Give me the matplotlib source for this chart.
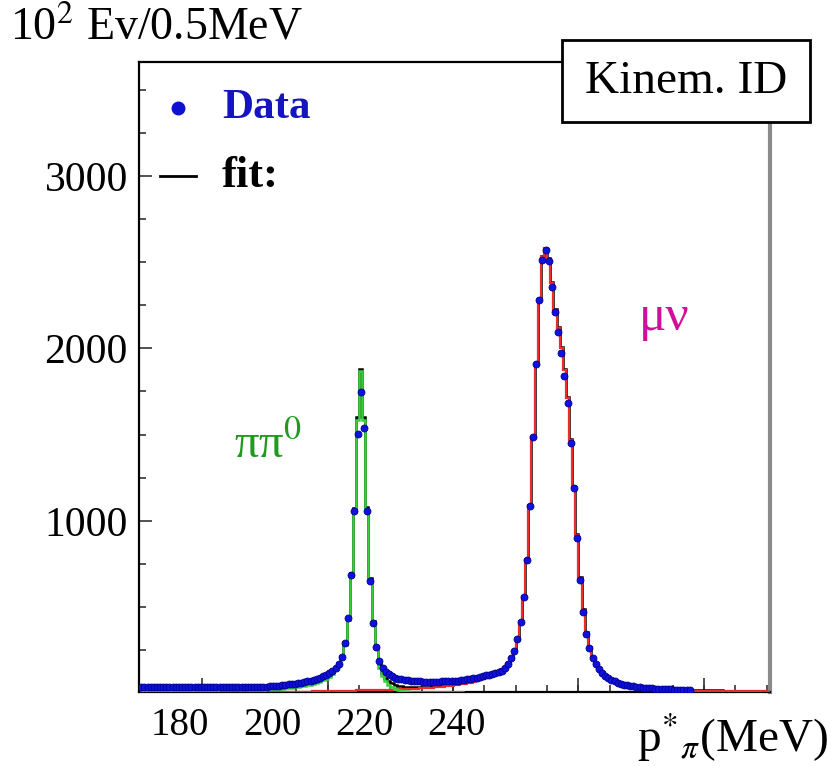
import numpy as np
import matplotlib.pyplot as plt
from matplotlib.lines import Line2D
from matplotlib.patches import Rectangle

plt.rcParams['font.family'] = ['Liberation Serif', 'DejaVu Serif']
plt.rcParams['mathtext.fontset'] = 'stix'

# histogram binning, read against the printed axis labels
bin_width = 0.68
hist_start = 171.25

# data points (units of 10^2 events per bin)
data_counts = [
    35, 35, 35, 36, 35, 36, 36, 36, 36, 36,
    36, 36, 37, 36, 37, 37, 37, 37, 37, 37,
    37, 38, 37, 38, 38, 38, 38, 38, 38, 38,
    38, 39, 39, 39, 39, 39, 39, 39, 39, 39,
    39, 40, 41, 43, 45, 47, 50, 52, 54, 56,
    59, 62, 66, 69, 73, 78, 84, 90, 98, 106,
    118, 132, 150, 172,
    213, 293, 438, 687, 1060, 1504, 1748, 1539, 1060, 654, 409, 270,
    188, 150, 125, 110, 100, 92, 86, 82, 78, 76,
    73, 71, 70, 69, 68, 68, 67, 67, 68, 68,
    69, 70, 71, 71, 72, 74, 76, 79, 82, 85,
    88, 92, 96, 101, 104, 108, 112, 117, 122, 132,
    148, 172, 204, 248, 314, 416, 561, 774, 1089, 1485,
    1908, 2281, 2513, 2571, 2506, 2358, 2213, 2092, 1972, 1841,
    1682, 1454, 1190, 903, 658, 474, 345, 262, 204, 170,
    140, 118, 100, 88, 78, 70, 62, 56, 50, 46,
    43, 40, 37, 35, 32, 31, 30, 29, 27, 26,
    25, 24, 24, 23, 22, 22, 21, 21, 20, 20,
]

# fit components over the full axis range
fit_pipi0 = [
    12, 12, 12, 12, 13, 13, 13, 13, 13, 13,
    14, 14, 14, 14, 14, 14, 15, 15, 15, 15,
    15, 16, 16, 16, 16, 17, 17, 17, 17, 18,
    18, 18, 19, 19, 20, 20, 21, 21, 22, 22,
    23, 24, 25, 26, 27, 28, 30, 31, 33, 35,
    37, 40, 43, 46, 50, 55, 60, 67, 75, 84,
    97, 112, 133, 160,
    200, 280, 425, 680, 1060, 1586, 1866, 1586, 1060, 650, 400, 255,
    150, 100, 70, 50, 36, 27, 20, 16, 13, 11,
    10, 9, 9, 8, 8, 8, 7, 7, 7, 7,
    6, 6, 6, 6, 6, 6, 6, 5, 5, 5,
    5, 5, 5, 5, 5, 5, 5, 5, 4, 4,
    4, 4, 4, 4, 4, 4, 4, 4, 4, 4,
    4, 4, 4, 4, 4, 4, 4, 4, 4, 4,
    4, 4, 4, 3, 3, 3, 3, 3, 3, 3,
    3, 3, 3, 3, 3, 3, 3, 3, 3, 3,
    3, 3, 3, 3, 3, 3, 3, 3, 3, 3,
    3, 3, 3, 3, 3, 3, 3, 3, 3, 3,
    3, 3, 3, 3, 3, 3, 3, 3, 3, 3,
    3, 3, 3, 3, 3, 3, 3, 3, 3, 3,
    3, 3, 3, 3, 3,
]

fit_munu = [
    2, 2, 2, 2, 2, 2, 2, 2, 2, 2,
    3, 3, 3, 3, 3, 3, 3, 3, 3, 3,
    4, 4, 4, 4, 4, 4, 4, 4, 5, 5,
    5, 5, 5, 5, 5, 6, 6, 6, 6, 6,
    6, 7, 7, 7, 7, 8, 8, 8, 8, 9,
    9, 9, 10, 10, 10, 11, 11, 11, 12, 12,
    12, 13, 13, 14,
    14, 15, 15, 16, 16, 17, 17, 18, 18, 19, 19, 20,
    20, 21, 21, 22, 22, 23, 23, 24, 24, 25,
    26, 27, 28, 29, 30, 31, 32, 33, 35, 36,
    38, 40, 42, 44, 47, 49, 52, 55, 59, 63,
    67, 72, 77, 83, 89, 96, 104, 113, 123, 136,
    150, 172, 204, 248, 314, 416, 561, 774, 1089, 1485,
    1908, 2281, 2530, 2580, 2520, 2378, 2223, 2119, 2003, 1875,
    1713, 1470, 1197, 919, 670, 484, 352, 268, 210, 172,
    142, 119, 101, 88, 78, 69, 62, 56, 51, 46,
    42, 39, 36, 34, 31, 29, 28, 26, 25, 24,
    23, 22, 21, 20, 19, 19, 18, 18, 17, 17,
    16, 16, 16, 15, 15, 15, 14, 14, 14, 14,
    13, 13, 13, 13, 12, 12, 12, 12, 12, 11,
    11, 11, 11, 11, 10,
]

x_ticks = [180, 200, 220, 240]
y_ticks = [1000, 2000, 3000]

data_counts = np.array(data_counts, dtype=float)
fit_pipi0 = np.array(fit_pipi0, dtype=float)
fit_munu = np.array(fit_munu, dtype=float)
fit_total = fit_pipi0 + fit_munu

data_x = hist_start + bin_width * (np.arange(len(data_counts)) + 0.5)
fit_edges = hist_start + bin_width * np.arange(len(fit_total) + 1)

W, H = 833, 766
fig = plt.figure(figsize=(W / 100, H / 100), dpi=100)
ax = fig.add_axes([139 / W, 1 - 692 / H, 631 / W, 630 / H])

ax.stairs(fit_total, fit_edges, baseline=None, color='black', lw=1.8, zorder=2)
ax.stairs(fit_munu, fit_edges, baseline=None, color='#ee2a2a', lw=1.6, zorder=3)
ax.stairs(fit_pipi0, fit_edges, baseline=None, color='#35d035', lw=1.8, zorder=4)
ax.plot(data_x, data_counts, 'o', color='#1010e0', mec='#00008a', mew=0.6,
        ms=5, zorder=5)

ax.set_xlim(171.1, 308.0)
ax.set_ylim(8, 3660)

# printed labels (no tick mark) + the frame's own tick marks
ax.set_xticks(x_ticks)
ax.set_xticks(np.arange(171.25, 309, 6.8), minor=True)
ax.tick_params(axis='x', which='major', length=0, pad=11, labelsize=28)
ax.tick_params(axis='x', which='minor', direction='in', length=5,
               width=1.2, color='#333333')
sec = ax.secondary_xaxis('bottom')
sec.set_xticks(np.arange(184.85, 309, 27.2))
sec.tick_params(direction='in', length=10, width=1.2, color='#333333',
                labelbottom=False)
sec.spines['bottom'].set_visible(False)

ax.set_yticks(y_ticks)
ax.set_yticks(np.arange(250, 3660, 250), minor=True)
ax.tick_params(axis='y', which='both', direction='in', labelsize=30,
               width=1.2, color='#333333', pad=8)
ax.tick_params(axis='y', which='major', length=9)
ax.tick_params(axis='y', which='minor', length=5)

for side in ['left', 'top', 'bottom']:
    ax.spines[side].set_linewidth(1.6)
ax.spines['right'].set_color('#8a8a8a')
ax.spines['right'].set_linewidth(3)

# legend
fig.add_artist(Line2D([178 / W], [1 - 108 / H], marker='o', ms=9,
                      color='#1010d0', transform=fig.transFigure))
fig.text(222 / W, 1 - 108 / H, 'Data', color='#1515c0', fontsize=31,
         fontweight='bold', va='center')
fig.add_artist(Line2D([160 / W, 196 / W], [1 - 176 / H] * 2, color='black',
                      lw=2, transform=fig.transFigure))
fig.text(222 / W, 1 - 176 / H, 'fit:', color='black', fontsize=32,
         fontweight='bold', va='center')

# component labels
fig.text(268 / W, 1 - 445 / H, 'ππ$^0$', color='#229a22', fontsize=35,
         ha='center', va='center')
fig.text(664 / W, 1 - 318 / H, 'μν', color='#d0109a', fontsize=37,
         ha='center', va='center')

# title box
fig.add_artist(Rectangle((562 / W, 1 - 122 / H), 248 / W, 82 / H,
                         transform=fig.transFigure, fc='white', ec='black',
                         lw=2, zorder=10))
fig.text(686 / W, 1 - 82 / H, 'Kinem. ID', fontsize=34, ha='center',
         va='center', zorder=11)

fig.text(10 / W, 1 - 28 / H, '10$^2$ Ev/0.5MeV', fontsize=33, va='center')
fig.text(828 / W, 1 - 752 / H, r'p$^{*}{}_{\pi}$(MeV)', fontsize=34,
         ha='right', va='baseline')

fig.savefig('out.png', dpi=100)
